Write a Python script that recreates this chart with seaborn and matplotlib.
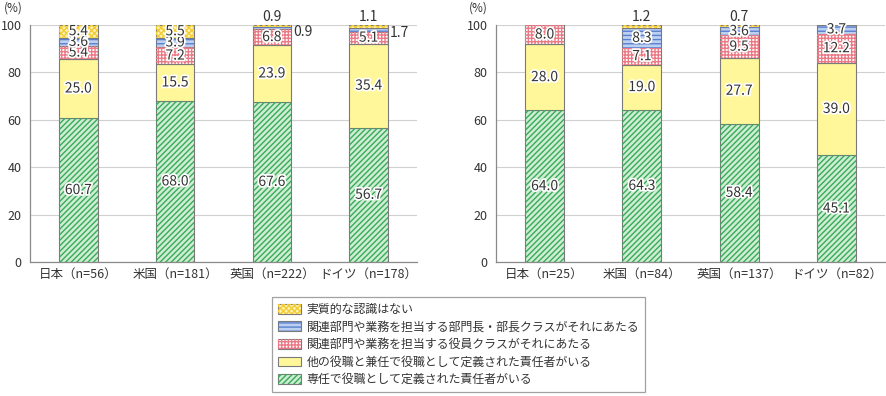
import numpy as np
import pandas as pd
import matplotlib
matplotlib.use('Agg')
import matplotlib.pyplot as plt
import matplotlib.patheffects as pe
from matplotlib.patches import Patch
from matplotlib.legend_handler import HandlerTuple
import seaborn as sns

# data (%)
series = ['専任で役職として定義された責任者がいる',
          '他の役職と兼任で役職として定義された責任者がいる',
          '関連部門や業務を担当する役員クラスがそれにあたる',
          '関連部門や業務を担当する部門長・部長クラスがそれにあたる',
          '実質的な認識はない']

left_cats = ['日本（n=56）', '米国（n=181）', '英国（n=222）', 'ドイツ（n=178）']
left_senin = [60.7, 68.0, 67.6, 56.7]
left_kennin = [25.0, 15.5, 23.9, 35.4]
left_yakuin = [5.4, 7.2, 6.8, 5.1]
left_bucho = [3.6, 3.9, 0.9, 1.7]
left_nashi = [5.4, 5.5, 0.9, 1.1]

right_cats = ['日本（n=25）', '米国（n=84）', '英国（n=137）', 'ドイツ（n=82）']
right_senin = [64.0, 64.3, 58.4, 45.1]
right_kennin = [28.0, 19.0, 27.7, 39.0]
right_yakuin = [8.0, 7.1, 9.5, 12.2]
right_bucho = [0.0, 8.3, 3.6, 3.7]
right_nashi = [0.0, 1.2, 0.7, 0.0]

# small segments labelled outside the bar: (series index, category index) -> where
left_outside = {(4, 2): 'top', (3, 2): 'right', (4, 3): 'top', (3, 3): 'right'}
right_outside = {(4, 1): 'top', (4, 2): 'top'}

# style per series: face, hatch, hatch colour
styles = [('#cdeed2', '//////', '#3aaa5a'),
          ('#fff799', None, None),
          ('#ffffff', '+++++', '#ec7a86'),
          ('#bcd0f2', '----', '#5a7fcc'),
          ('#fff3b5', 'xxxxxx', '#f3cc35')]

sns.set_style('white')
plt.rcParams['font.family'] = ['Noto Sans CJK JP', 'DejaVu Sans']
plt.rcParams['hatch.linewidth'] = 1.0

fig = plt.figure(figsize=(8.87, 3.96), dpi=100)
ax1 = fig.add_axes([30 / 887, 1 - 262 / 396, 387 / 887, 237 / 396])
ax2 = fig.add_axes([496 / 887, 1 - 262 / 396, 389 / 887, 237 / 396])


def draw(ax, cats, layers, outside):
    bottom = np.zeros(len(cats))
    for k, vals in enumerate(layers):
        face, hatch, hcol = styles[k]
        vals = np.array(vals)
        sns.barplot(x=cats, y=vals, bottom=bottom, color=face, saturation=1,
                    width=0.4, errorbar=None, edgecolor='#7a7a7a', linewidth=0.8,
                    ax=ax, zorder=2)
        if hatch:
            sns.barplot(x=cats, y=vals, bottom=bottom, color=hcol, saturation=1,
                        width=0.4, errorbar=None, facecolor='none', edgecolor=hcol,
                        linewidth=0, hatch=hatch, ax=ax, zorder=3)
        for i, v in enumerate(vals):
            if v == 0:
                continue
            where = outside.get((k, i))
            if where == 'top':
                ax.text(i, 100.4, f'{v:.1f}', ha='center', va='bottom',
                        fontsize=10, color='#333333', zorder=5)
            elif where == 'right':
                ax.text(i + 0.22, bottom[i] + v / 2 - 1.5, f'{v:.1f}', ha='left',
                        va='center', fontsize=10, color='#333333', zorder=5)
            else:
                ax.text(i, bottom[i] + v / 2, f'{v:.1f}', ha='center', va='center',
                        fontsize=10, color='#333333', zorder=5,
                        path_effects=[pe.withStroke(linewidth=2.5, foreground='white')])
        bottom = bottom + vals

    ax.set_ylim(0, 100)
    ax.set_xlim(-0.5, len(cats) - 0.5)
    ax.set_yticks([0, 20, 40, 60, 80, 100])
    ax.yaxis.grid(True, color='#d0d0d0', linewidth=0.8, zorder=0)
    ax.set_axisbelow(True)
    ax.set_xlabel('')
    ax.set_ylabel('')
    for s in ['top', 'right']:
        ax.spines[s].set_visible(False)
    for s in ['left', 'bottom']:
        ax.spines[s].set_color('#8a8a8a')
        ax.spines[s].set_linewidth(0.9)
    ax.tick_params(axis='y', length=0, labelsize=9, colors='#333333', pad=6)
    ax.tick_params(axis='x', length=0, labelsize=9, colors='#333333', pad=4)
    ax.set_xticks(np.arange(-0.5, len(cats)), minor=True)
    ax.tick_params(axis='x', which='minor', direction='in', length=4,
                   color='#8a8a8a', width=0.9)
    ax.text(-0.02, 1.07, '(%)', transform=ax.transAxes, ha='right', va='center',
            fontsize=8.5, color='#333333')


draw(ax1, left_cats, [left_senin, left_kennin, left_yakuin, left_bucho, left_nashi],
     left_outside)
draw(ax2, right_cats, [right_senin, right_kennin, right_yakuin, right_bucho, right_nashi],
     right_outside)

handles = []
for face, hatch, hcol in styles:
    base = Patch(facecolor=face, edgecolor='#7a7a7a', linewidth=0.8)
    if hatch:
        handles.append((base, Patch(facecolor='none', edgecolor=hcol, linewidth=0,
                                    hatch=hatch)))
    else:
        handles.append((base,))

leg = fig.legend(handles[::-1], series[::-1], loc='upper left',
                 bbox_to_anchor=(272 / 887, 1 - 297 / 396),
                 handler_map={tuple: HandlerTuple(ndivide=1, pad=0)},
                 fontsize=8.6, frameon=True, fancybox=False, handlelength=1.9,
                 handleheight=0.9, handletextpad=0.5, labelspacing=0.38,
                 borderpad=0.5, borderaxespad=0)
leg.get_frame().set_edgecolor('#8a8a8a')
leg.get_frame().set_linewidth(0.9)
for t in leg.get_texts():
    t.set_color('#333333')

fig.savefig('out.png', dpi=100)
